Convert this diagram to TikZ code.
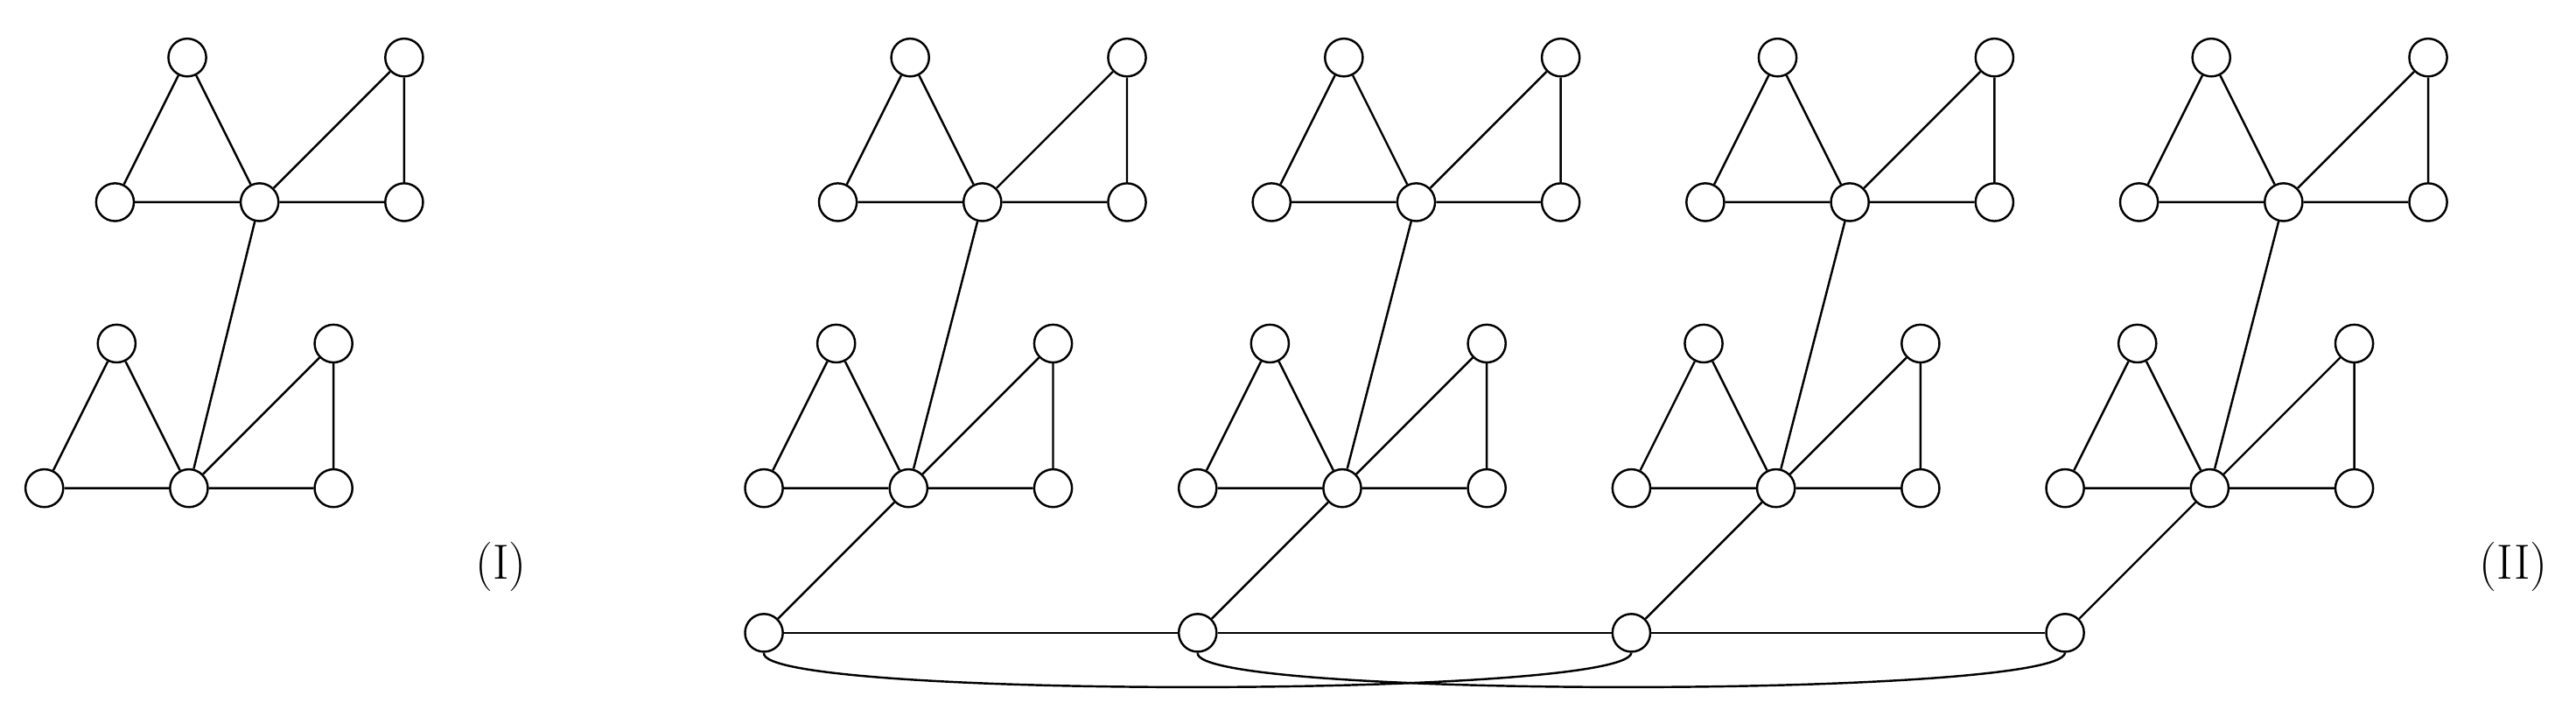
\documentclass[tikz,border=0pt]{standalone}
\begin{document}
\begin{tikzpicture}[x=1pt,y=-1pt,line width=1.3pt,
  v/.style={circle,draw,fill=white,minimum size=23pt,inner sep=0pt},
  lab/.style={font=\fontsize{30}{36}\selectfont}]
\useasboundingbox (0,0) rectangle (1568,440);
\newcommand{\tri}[3]{% prefix, hub x, hub y
  \node[v] (#1h) at (#2,#3) {};
  \node[v] (#1l) at (#2-88,#3) {};
  \node[v] (#1a) at (#2-44,#3-88) {};
  \node[v] (#1t) at (#2+88,#3-88) {};
  \node[v] (#1b) at (#2+88,#3) {};
  \draw (#1l)--(#1h)--(#1b)--(#1t)--(#1h)--(#1a)--(#1l);}
% Graph I
\tri{ia}{158}{123}
\tri{ib}{115}{297}
\draw (iah)--(ibh);
\node[lab] (L1) at (305,345) {(I)};
% Graph II
\foreach \i/\x in {1/598,2/862,3/1126,4/1390}{
  \tri{t\i}{\x}{123}
  \tri{s\i}{\x-45}{297}
  \draw (t\i h)--(s\i h);
  \node[v] (z\i) at (\x-133,385) {};
  \draw (z\i)--(s\i h);
}
\draw (z1)--(z2)--(z3)--(z4);
\draw (z1.south) .. controls (460,425) and (990,425) .. (z3.south);
\draw (z2.south) .. controls (725,425) and (1254,425) .. (z4.south);
\node[lab] (L2) at (1530,345) {(II)};
\end{tikzpicture}
\end{document}
